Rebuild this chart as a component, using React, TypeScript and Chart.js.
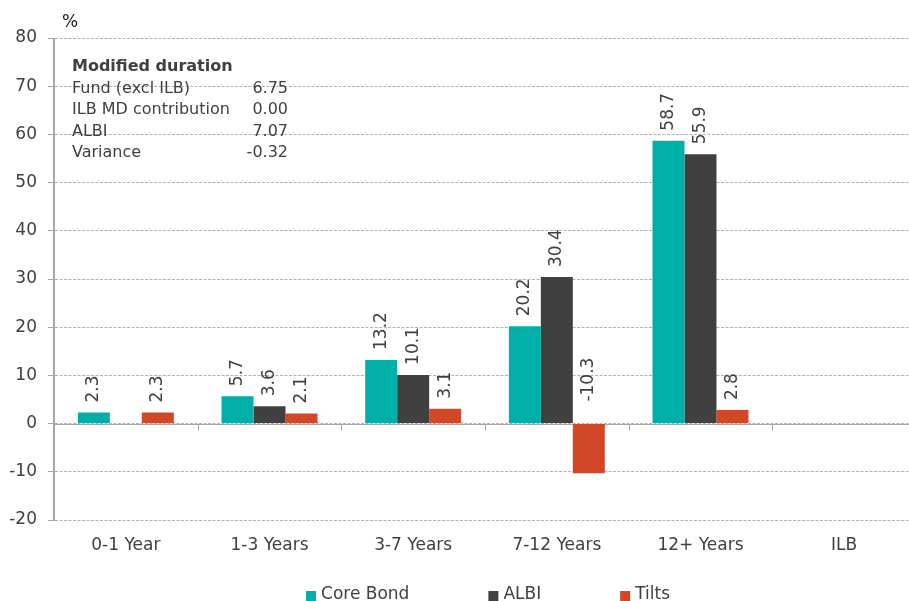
import React, { useEffect, useRef } from "react";
import { Chart, registerables } from "chart.js";

Chart.register(...registerables);

const categories = ["0-1 Year", "1-3 Years", "3-7 Years", "7-12 Years", "12+ Years", "ILB"];
const coreBond: (number | null)[] = [2.3, 5.7, 13.2, 20.2, 58.7, null];
const albi: (number | null)[] = [null, 3.6, 10.1, 30.4, 55.9, null];
const tilts: (number | null)[] = [2.3, 2.1, 3.1, -10.3, 2.8, null];
const seriesNames = ["Core Bond", "ALBI", "Tilts"];
const seriesColors = ["#00B0A8", "#404040", "#D24726"];
const yMin = -20;
const yMax = 80;
const yStep = 10;
const unitLabel = "%";
const mdTitle = "Modified duration";
const mdLabels = ["Fund (excl ILB)", "ILB MD contribution", "ALBI", "Variance"];
const mdValues = ["6.75", "0.00", "7.07", "-0.32"];

const FONT = '"DejaVu Sans", Verdana, sans-serif';
const TEXT = "#404040";
const GRID = "#B3B3B3";
const AXIS = "#A6A6A6";

const overlay = {
  id: "overlay",
  beforeDatasetsDraw(chart: any) {
    const { ctx, chartArea, scales } = chart;
    const y0 = Math.round(scales.y.getPixelForValue(0)) + 0.5;
    ctx.save();
    ctx.strokeStyle = AXIS;
    ctx.lineWidth = 1;
    ctx.setLineDash([]);
    ctx.beginPath();
    ctx.moveTo(chartArea.left, y0);
    ctx.lineTo(chartArea.right, y0);
    const n = chart.data.labels.length;
    for (let i = 1; i < n; i++) {
      const x = Math.round((scales.x.getPixelForValue(i - 1) + scales.x.getPixelForValue(i)) / 2) + 0.5;
      ctx.moveTo(x, y0);
      ctx.lineTo(x, y0 + 6);
    }
    const xa = Math.round(chartArea.left) - 0.5;
    ctx.moveTo(xa, chartArea.top);
    ctx.lineTo(xa, chartArea.bottom);
    ctx.stroke();
    ctx.restore();
  },
  afterDatasetsDraw(chart: any) {
    const { ctx, scales } = chart;
    const y0 = scales.y.getPixelForValue(0);
    ctx.save();
    ctx.font = `17px ${FONT}`;
    ctx.fillStyle = TEXT;
    chart.data.datasets.forEach((ds: any, di: number) => {
      const meta = chart.getDatasetMeta(di);
      meta.data.forEach((bar: any, i: number) => {
        const v = ds.data[i];
        if (v == null) return;
        const yb = v >= 0 ? bar.y - 10 : y0 - 22;
        ctx.save();
        ctx.translate(bar.x, yb);
        ctx.rotate(-Math.PI / 2);
        ctx.textAlign = "left";
        ctx.textBaseline = "middle";
        ctx.fillText(v.toFixed(1), 0, 0);
        ctx.restore();
      });
    });
    ctx.restore();
  },
  afterDraw(chart: any) {
    const { ctx, chartArea } = chart;
    ctx.save();
    ctx.font = `17px ${FONT}`;
    ctx.fillStyle = "#1a1a1a";
    ctx.textAlign = "left";
    ctx.textBaseline = "middle";
    ctx.fillText(unitLabel, 62, 23);
    ctx.fillStyle = TEXT;
    ctx.font = `bold 16px ${FONT}`;
    ctx.fillText(mdTitle, 72, 67);
    ctx.font = `16px ${FONT}`;
    mdLabels.forEach((lab, i) => {
      const y = 89 + i * 21.3;
      ctx.textAlign = "left";
      ctx.fillText(lab, 72, y);
      ctx.textAlign = "right";
      ctx.fillText(mdValues[i], 288, y);
    });
    ctx.font = `17px ${FONT}`;
    const box = 10;
    const gapBox = 5;
    const gapItem = 79;
    const widths = seriesNames.map((s) => box + gapBox + ctx.measureText(s).width);
    const total = widths.reduce((a, b) => a + b, 0) + gapItem * (widths.length - 1);
    let x = (chartArea.left + chartArea.right) / 2 + 3 - total / 2;
    const yc = 595;
    seriesNames.forEach((s, i) => {
      ctx.fillStyle = seriesColors[i];
      ctx.fillRect(x, yc - 4, box, box);
      ctx.fillStyle = TEXT;
      ctx.textAlign = "left";
      ctx.textBaseline = "middle";
      ctx.fillText(s, x + box + gapBox, yc);
      x += widths[i] + gapItem;
    });
    ctx.restore();
  },
};

export default function App() {
  const ref = useRef<HTMLCanvasElement | null>(null);
  useEffect(() => {
    if (!ref.current) return;
    Chart.defaults.font.family = FONT;
    Chart.defaults.color = TEXT;
    const series = [coreBond, albi, tilts];
    const chart = new Chart(ref.current, {
      type: "bar",
      data: {
        labels: categories,
        datasets: series.map((d, i) => ({
          label: seriesNames[i],
          data: d,
          backgroundColor: seriesColors[i],
          borderWidth: 0,
          categoryPercentage: 0.668,
          barPercentage: 1,
        })),
      },
      options: {
        responsive: false,
        animation: false,
        layout: { padding: { top: 38, right: 14, bottom: 41, left: 0 } },
        plugins: {
          legend: { display: false },
          tooltip: { enabled: false },
        },
        scales: {
          x: {
            grid: { display: false, drawTicks: false },
            border: { display: false },
            ticks: { font: { size: 17 }, color: TEXT, padding: 15, maxRotation: 0 },
            afterFit: (s: any) => {
              s.height = 40;
            },
          },
          y: {
            min: yMin,
            max: yMax,
            ticks: { stepSize: yStep, font: { size: 17 }, color: TEXT, padding: 11 },
            grid: {
              color: GRID,
              lineWidth: 1,
              tickLength: 6,
              tickColor: AXIS,
              tickBorderDash: [],
            },
            border: { display: true, color: AXIS, width: 1, dash: [3, 1.5] },
            afterFit: (s: any) => {
              s.width = 54;
            },
          },
        },
      },
      plugins: [overlay],
    } as any);
    return () => chart.destroy();
  }, []);
  return (
    <div
      style={{
        position: "fixed",
        top: 0,
        left: 0,
        width: 909,
        height: 601,
        overflow: "hidden",
        background: "#fff",
      }}
    >
      <canvas ref={ref} width={930} height={601} style={{ display: "block" }} />
    </div>
  );
}
